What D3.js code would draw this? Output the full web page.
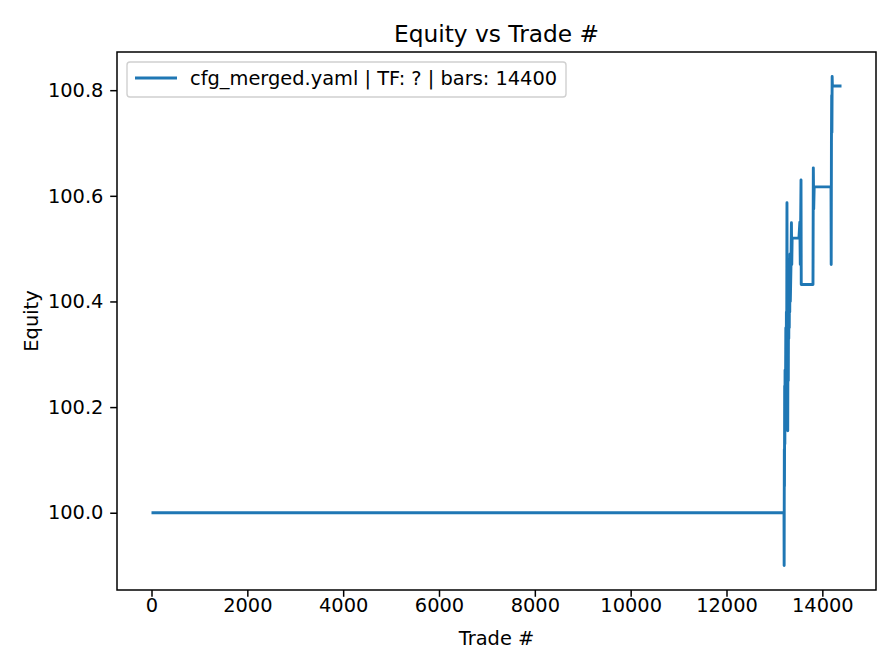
<!DOCTYPE html>
<html><head><meta charset="utf-8">
<script src="https://cdn.jsdelivr.net/npm/d3@7"></script>
<style>body{margin:0;background:#fff}svg{display:block;font-family:"DejaVu Sans",sans-serif}</style>
</head><body>
<svg id="c" width="896" height="672"></svg>
<script>
const trades = [0, 13200, 13203, 13207, 13210, 13214, 13218, 13222, 13226, 13230, 13238, 13245, 13250, 13256, 13262, 13268, 13272, 13278, 13285, 13290, 13296, 13300, 13305, 13310, 13316, 13320, 13326, 13332, 13345, 13355, 13362, 13370, 13512, 13530, 13540, 13555, 13560, 13805, 13812, 13820, 13830, 14181, 14185, 14190, 14195, 14200, 14205, 14210, 14400];
const equity = [100.0, 100.0, 99.90, 100.12, 100.05, 100.24, 100.13, 100.27, 100.16, 100.20, 100.35, 100.20, 100.38, 100.30, 100.587, 100.30, 100.42, 100.155, 100.40, 100.25, 100.44, 100.33, 100.48, 100.35, 100.46, 100.38, 100.49, 100.40, 100.465, 100.549, 100.47, 100.52, 100.52, 100.55, 100.47, 100.63, 100.432, 100.432, 100.653, 100.575, 100.617, 100.617, 100.47, 100.70, 100.79, 100.72, 100.826, 100.808, 100.808];
const xTicks = [0, 2000, 4000, 6000, 8000, 10000, 12000, 14000];
const yTicks = [100.0, 100.2, 100.4, 100.6, 100.8];
const legendLabel = "cfg_merged.yaml | TF: ? | bars: 14400";

const svg = d3.select("#c");
const L = 117, R = 876, T = 52, B = 590;
const FS = 19.4;
const xmin = 0, xmax = 14400, xpad = (xmax - xmin) * 0.05;
const ymin = d3.min(equity), ymax = d3.max(equity), ypad = (ymax - ymin) * 0.05;
const x = d3.scaleLinear().domain([xmin - xpad, xmax + xpad]).range([L, R]);
const y = d3.scaleLinear().domain([ymin - ypad, ymax + ypad]).range([B, T]);

const data = trades.map((t, i) => [t, equity[i]]);
svg.append("path").datum(data)
  .attr("fill", "none").attr("stroke", "#1f77b4").attr("stroke-width", 2.9)
  .attr("stroke-linejoin", "round").attr("stroke-linecap", "butt")
  .attr("d", d3.line().x(d => x(d[0])).y(d => y(d[1])));

const xa = svg.append("g").attr("transform", `translate(0,${B})`)
  .call(d3.axisBottom(x).tickValues(xTicks).tickSize(6.8).tickPadding(6.8).tickFormat(d3.format("d")));
const ya = svg.append("g").attr("transform", `translate(${L},0)`)
  .call(d3.axisLeft(y).tickValues(yTicks).tickSize(6.8).tickPadding(6.8).tickFormat(d3.format(".1f")));
[xa, ya].forEach(a => {
  a.attr("font-size", FS).attr("font-family", "DejaVu Sans");
  a.select(".domain").remove();
  a.selectAll("line").attr("stroke", "#000").attr("stroke-width", 1.5);
  a.selectAll("text").attr("font-size", FS).attr("fill", "#000");
});
xa.selectAll("text").attr("dy", null).attr("y", 21.5);

svg.append("rect").attr("x", L).attr("y", T).attr("width", R - L).attr("height", B - T)
  .attr("fill", "none").attr("stroke", "#000").attr("stroke-width", 1.5);

svg.append("text").attr("x", (L + R) / 2).attr("y", 42).attr("text-anchor", "middle")
  .attr("font-size", 23.3).text("Equity vs Trade #");
svg.append("text").attr("x", (L + R) / 2).attr("y", 645).attr("text-anchor", "middle")
  .attr("font-size", FS).text("Trade #");
svg.append("text").attr("transform", `translate(38,${(T + B) / 2}) rotate(-90)`).attr("text-anchor", "middle")
  .attr("font-size", FS).text("Equity");

const lg = svg.append("g");
lg.append("rect").attr("x", 127).attr("y", 62).attr("width", 439).attr("height", 35).attr("rx", 3)
  .attr("fill", "#fff").attr("fill-opacity", 0.8).attr("stroke", "#d0d0d0").attr("stroke-width", 1.4);
lg.append("line").attr("x1", 135).attr("x2", 177).attr("y1", 78).attr("y2", 78)
  .attr("stroke", "#1f77b4").attr("stroke-width", 2.9);
lg.append("text").attr("x", 190).attr("y", 85).attr("font-size", FS).text(legendLabel);
</script>
</body></html>
